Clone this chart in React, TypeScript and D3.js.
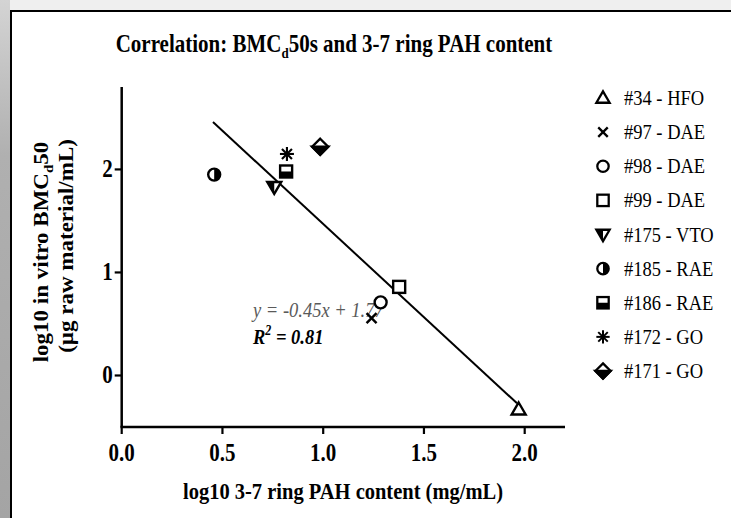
import React from "react";
import * as d3 from "d3";

// ---- data ----
const sampleNames = [
  "#34 - HFO",
  "#97 - DAE",
  "#98 - DAE",
  "#99 - DAE",
  "#175 - VTO",
  "#185 - RAE",
  "#186 - RAE",
  "#172 - GO",
  "#171 - GO",
];
const symbolKinds = [
  "triUp",
  "cross",
  "circle",
  "square",
  "triDown",
  "halfCircle",
  "halfSquare",
  "asterisk",
  "halfDiamond",
];
const pahContent = [1.97, 1.24, 1.285, 1.377, 0.757, 0.459, 0.816, 0.82, 0.985];
const bmcValues = [-0.33, 0.556, 0.71, 0.86, 1.83, 1.95, 1.98, 2.15, 2.22];
const fitLineX = [0.453, 1.962];
const fitLineY = [2.46, -0.27];
const xTicks = [0, 0.5, 1.0, 1.5, 2.0];
const yTicks = [0, 1, 2];
const equationText = "y = -0.45x + 1.77";
const r2Value = "0.81";

const SERIF = "'Liberation Serif', 'Times New Roman', serif";
const SY = 1.15;

function ST({
  x,
  y,
  size,
  weight = "normal",
  italic = false,
  anchor = "start",
  rot = 0,
  fill = "#000",
  sx = 1,
  sy = SY,
  children,
}: any) {
  return (
    <text
      transform={`translate(${x},${y}) scale(${sx},${sy}) rotate(${rot})`}
      fontFamily={SERIF}
      fontSize={size}
      fontWeight={weight}
      fontStyle={italic ? "italic" : "normal"}
      textAnchor={anchor}
      fill={fill}
    >
      {children}
    </text>
  );
}

function Marker({ kind, x, y, s = 1 }: { kind: string; x: number; y: number; s?: number }) {
  const sw = 2.4;
  const common = { stroke: "#000", strokeWidth: sw, strokeLinejoin: "miter" as const };
  let el: any = null;
  switch (kind) {
    case "triUp":
      el = <polygon points="0,-7 7,5 -7,5" fill="#fff" {...common} />;
      break;
    case "cross":
      el = (
        <g {...common}>
          <line x1={-5} y1={-5} x2={5} y2={5} />
          <line x1={-5} y1={5} x2={5} y2={-5} />
        </g>
      );
      break;
    case "circle":
      el = <circle r={6} fill="#fff" {...common} />;
      break;
    case "square":
      el = <rect x={-6} y={-6} width={12} height={12} fill="#fff" {...common} />;
      break;
    case "triDown":
      el = (
        <g>
          <polygon points="-7,-5 7,-5 0,7" fill="#fff" {...common} />
          <polygon points="-7,-5 0,-5 0,7" fill="#000" />
        </g>
      );
      break;
    case "halfCircle":
      el = (
        <g>
          <circle r={6} fill="#fff" {...common} />
          <path d="M0,-6 A6,6 0 0 1 0,6 Z" fill="#000" />
        </g>
      );
      break;
    case "halfSquare":
      el = (
        <g>
          <rect x={-6} y={-6} width={12} height={12} fill="#fff" {...common} />
          <rect x={-6} y={0} width={12} height={6} fill="#000" />
        </g>
      );
      break;
    case "asterisk":
      el = (
        <g stroke="#000" strokeWidth={2.1}>
          <line x1={0} y1={-7} x2={0} y2={7} />
          <line x1={-7} y1={0} x2={7} y2={0} />
          <line x1={-5} y1={-5} x2={5} y2={5} />
          <line x1={-5} y1={5} x2={5} y2={-5} />
        </g>
      );
      break;
    case "halfDiamond":
      el = (
        <g>
          <polygon points="0,-8 8,0 0,8 -8,0" fill="#fff" {...common} />
          <polygon points="-8,0 8,0 0,8" fill="#000" {...common} />
        </g>
      );
      break;
  }
  return <g transform={`translate(${x},${y}) scale(${s})`}>{el}</g>;
}

export default function App() {
  const W = 731;
  const H = 518;
  const x = d3.scaleLinear().domain([0, 2.2]).range([121.7, 565]);
  const y = d3.scaleLinear().domain([-0.5, 2.8]).range([427, 87]);
  const x0 = x(0);
  const yBase = y(-0.5);

  const fitPath = d3
    .line<number>()
    .x((_, i) => x(fitLineX[i]))
    .y((d) => y(d))(fitLineY) as string;

  const legendY = d3
    .scalePoint<string>()
    .domain(sampleNames)
    .range([98, 371]);

  return (
    <svg
      width={W}
      height={H}
      style={{ position: "absolute", left: 0, top: 0, background: "#fff" }}
    >
      <defs>
        <linearGradient id="leftGrad" x1="0" y1="0" x2="0" y2="1">
          <stop offset="0" stopColor="#d4d4d4" />
          <stop offset="0.3" stopColor="#b0b0b0" />
          <stop offset="1" stopColor="#a4a4a4" />
        </linearGradient>
      </defs>
      <rect x={0} y={0} width={W} height={H} fill="#fff" />
      {/* screenshot frame */}
      <rect x={0} y={0} width={W} height={10} fill="#efefef" />
      <rect x={0} y={0} width={10} height={H} fill="url(#leftGrad)" />
      <rect x={10} y={10} width={W - 10} height={2} fill="#000" />
      <rect x={10} y={10} width={2} height={H - 10} fill="#000" />

      {/* title */}
      <ST x={334} y={52} size={21} weight="bold" anchor="middle">
        Correlation: BMC
        <tspan fontSize={13} dy={5}>
          d
        </tspan>
        <tspan dy={-5}>50s and 3-7 ring PAH content</tspan>
      </ST>

      {/* axes */}
      <line x1={x0} y1={y(2.8)} x2={x0} y2={yBase} stroke="#000" strokeWidth={2.5} />
      <line x1={x0 - 1.25} y1={yBase} x2={x(2.2)} y2={yBase} stroke="#000" strokeWidth={2.5} />
      {yTicks.map((t) => (
        <g key={"y" + t}>
          <line x1={x0 - 7} y1={y(t)} x2={x0} y2={y(t)} stroke="#000" strokeWidth={2.2} />
          <ST x={x0 - 9} y={y(t) + 8} size={21} weight="bold" anchor="end">
            {d3.format("d")(t)}
          </ST>
        </g>
      ))}
      {xTicks.map((t) => (
        <g key={"x" + t}>
          <line x1={x(t)} y1={yBase} x2={x(t)} y2={yBase + 7} stroke="#000" strokeWidth={2.2} />
          <ST x={x(t)} y={461} size={21} weight="bold" anchor="middle">
            {d3.format(".1f")(t)}
          </ST>
        </g>
      ))}

      {/* axis labels */}
      <ST x={343} y={499} size={20.5} weight="bold" anchor="middle">
        log10 3-7 ring PAH content (mg/mL)
      </ST>
      <ST x={48} y={252} size={20} weight="bold" anchor="middle" rot={-90}>
        log10 in vitro BMC
        <tspan fontSize={13} dy={5}>
          d
        </tspan>
        <tspan dy={-5}>50</tspan>
      </ST>
      <ST x={73} y={246} size={20} weight="bold" anchor="middle" rot={-90}>
        (µg raw material/mL)
      </ST>

      {/* regression line */}
      <path d={fitPath} fill="none" stroke="#000" strokeWidth={2} />

      {/* equation */}
      <ST x={253} y={317} size={18.5} italic fill="#5a5a5a">
        {equationText}
      </ST>
      <ST x={253} y={344} size={18.5} italic weight="bold">
        R
        <tspan fontSize={12} dy={-8}>
          2
        </tspan>
        <tspan dy={8}>{" = " + r2Value}</tspan>
      </ST>

      {/* points */}
      {pahContent.map((v, i) => (
        <Marker key={i} kind={symbolKinds[i]} x={x(v)} y={y(bmcValues[i])} />
      ))}

      {/* legend */}
      {sampleNames.map((n, i) => (
        <g key={n}>
          <Marker kind={symbolKinds[i]} x={603} y={legendY(n) as number} s={0.95} />
          <ST x={624} y={(legendY(n) as number) + 7} size={18.5}>
            {n}
          </ST>
        </g>
      ))}
    </svg>
  );
}
